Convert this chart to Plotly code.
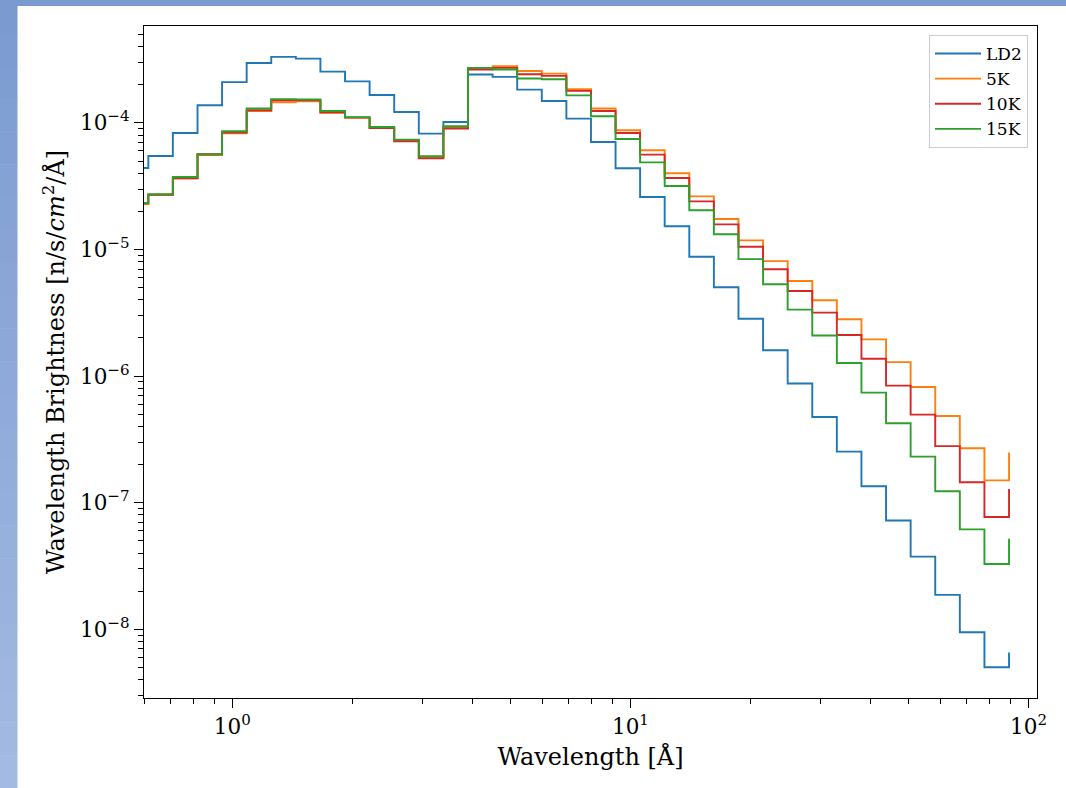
import plotly.graph_objects as go

# ---------------- data ----------------
wavelength = [0.5335, 0.6152, 0.7089, 0.8177, 0.9424, 1.0865, 1.2524, 1.4438, 1.6645,
              1.919, 2.2123, 2.5505, 2.9404, 3.3899, 3.9081, 4.5055, 5.1943, 5.9884,
              6.9038, 7.9591, 9.1759, 10.574, 12.19, 14.054, 16.202, 18.679, 21.534,
              24.826, 28.621, 32.996, 38.041, 43.856, 50.559, 58.289, 67.199, 77.472, 89.315]

ld2 = [4.40e-5, 5.48e-5, 8.32e-5, 1.377e-4, 2.10e-4, 2.97e-4, 3.32e-4, 3.22e-4, 2.54e-4,
       2.13e-4, 1.66e-4, 1.22e-4, 8.23e-5, 1.016e-4, 2.41e-4, 2.31e-4, 1.83e-4, 1.49e-4,
       1.08e-4, 7.07e-5, 4.38e-5, 2.60e-5, 1.525e-5, 8.76e-6, 5.03e-6, 2.84e-6, 1.60e-6,
       8.73e-7, 4.75e-7, 2.53e-7, 1.35e-7, 7.23e-8, 3.75e-8, 1.87e-8, 9.47e-9, 5.01e-9, 6.55e-9]

k5 = [2.29e-5, 2.70e-5, 3.65e-5, 5.58e-5, 8.28e-5, 1.24e-4, 1.455e-4, 1.48e-4, 1.20e-4,
      1.10e-4, 9.12e-5, 7.29e-5, 5.38e-5, 9.28e-5, 2.71e-4, 2.81e-4, 2.57e-4, 2.45e-4,
      1.85e-4, 1.30e-4, 8.74e-5, 6.08e-5, 4.00e-5, 2.63e-5, 1.74e-5, 1.18e-5, 8.10e-6,
      5.64e-6, 3.97e-6, 2.81e-6, 1.95e-6, 1.29e-6, 8.20e-7, 4.84e-7, 2.69e-7, 1.50e-7, 2.49e-7]

k10 = [2.32e-5, 2.71e-5, 3.65e-5, 5.65e-5, 8.38e-5, 1.26e-4, 1.51e-4, 1.51e-4, 1.21e-4,
       1.10e-4, 9.12e-5, 7.16e-5, 5.25e-5, 9.02e-5, 2.64e-4, 2.72e-4, 2.42e-4, 2.35e-4,
       1.79e-4, 1.24e-4, 8.32e-5, 5.62e-5, 3.67e-5, 2.40e-5, 1.58e-5, 1.05e-5, 6.98e-6,
       4.70e-6, 3.17e-6, 2.11e-6, 1.37e-6, 8.41e-7, 4.96e-7, 2.80e-7, 1.45e-7, 7.71e-8, 1.28e-7]

k15 = [2.33e-5, 2.73e-5, 3.74e-5, 5.65e-5, 8.58e-5, 1.30e-4, 1.54e-4, 1.53e-4, 1.24e-4,
       1.11e-4, 9.28e-5, 7.38e-5, 5.45e-5, 9.40e-5, 2.72e-4, 2.64e-4, 2.24e-4, 2.21e-4,
       1.65e-4, 1.13e-4, 7.46e-5, 4.88e-5, 3.17e-5, 2.04e-5, 1.32e-5, 8.40e-6, 5.31e-6,
       3.35e-6, 2.09e-6, 1.27e-6, 7.41e-7, 4.24e-7, 2.31e-7, 1.23e-7, 6.16e-8, 3.28e-8, 5.20e-8]

series_names = ["LD2", "5K", "10K", "15K"]
series_values = [ld2, k5, k10, k15]
series_colors = ["#1f77b4", "#ff7f0e", "#d62728", "#2ca02c"]

x_tick_vals = [1, 10, 100]
x_tick_text = ["10<sup>0</sup>", "10<sup>1</sup>", "10<sup>2</sup>"]
y_tick_vals = [1e-8, 1e-7, 1e-6, 1e-5, 1e-4]
y_tick_text = ["10<sup>\u22128</sup>", "10<sup>\u22127</sup>", "10<sup>\u22126</sup>",
               "10<sup>\u22125</sup>", "10<sup>\u22124</sup>"]

# ---------------- layout geometry ----------------
W, H = 1066, 788
ML, MR, MT, MB = 144, 29, 26, 90
PW, PH = W - ML - MR, H - MT - MB


def px_x(x):
    return (x - ML) / PW


def px_y(y):
    return (H - MB - y) / PH


FONT = "DejaVu Serif"

fig = go.Figure()
for name, vals, col in zip(series_names, series_values, series_colors):
    fig.add_trace(go.Scatter(x=wavelength, y=vals, name=name, mode="lines",
                             line=dict(color=col, width=1.9, shape="hv")))

x_minor = [m * 10 ** e for e in (-1, 0, 1) for m in range(2, 10)]
y_minor = [m * 10 ** e for e in range(-9, -3) for m in range(2, 10)]

axis_common = dict(type="log", showgrid=False, zeroline=False, showline=True,
                   linecolor="black", linewidth=1.3, mirror=True, ticks="outside",
                   ticklen=9, tickwidth=1.3, tickcolor="black",
                   tickfont=dict(family=FONT, size=21.5, color="black"),
                   tickmode="array")

fig.update_xaxes(**axis_common, range=[-0.22185, 2.02119],
                 tickvals=x_tick_vals, ticktext=x_tick_text,
                 minor=dict(tickmode="array", tickvals=x_minor, ticks="outside",
                            ticklen=5, tickwidth=1.1, tickcolor="black", showgrid=False),
                 title=dict(text="Wavelength [Å]", font=dict(family=FONT, size=24, color="black"),
                            standoff=10))
fig.update_yaxes(**axis_common, range=[-8.5427, -3.2346],
                 tickvals=y_tick_vals, ticktext=y_tick_text,
                 minor=dict(tickmode="array", tickvals=y_minor, ticks="outside",
                            ticklen=5, tickwidth=1.1, tickcolor="black", showgrid=False),
                 title=dict(text="Wavelength Brightness [n/s/<i>cm</i><sup>2</sup>/Å]",
                            font=dict(family=FONT, size=24, color="black"), standoff=8))

# background: blue page strips around the white figure
shapes = []
shapes.append(dict(type="rect", xref="paper", yref="paper",
                   x0=px_x(0), x1=px_x(W), y0=px_y(6), y1=px_y(0),
                   fillcolor="#7b9bd0", line=dict(width=0), layer="below"))
n = 24
c0 = (123, 155, 208)
c1 = (163, 186, 226)
for i in range(n):
    t = i / (n - 1)
    col = "rgb(%d,%d,%d)" % tuple(round(a + (b - a) * t) for a, b in zip(c0, c1))
    shapes.append(dict(type="rect", xref="paper", yref="paper",
                       x0=px_x(0), x1=px_x(17.5),
                       y0=px_y(H * (i + 1) / n + 0.5), y1=px_y(H * i / n),
                       fillcolor=col, line=dict(width=0), layer="below"))

fig.update_layout(
    width=W, height=H,
    margin=dict(l=ML, r=MR, t=MT, b=MB, pad=0),
    paper_bgcolor="white", plot_bgcolor="white",
    font=dict(family=FONT, color="black"),
    shapes=shapes,
    showlegend=True,
    legend=dict(x=px_x(1028), xanchor="right", y=px_y(35), yanchor="top",
                bgcolor="rgba(255,255,255,0.8)", bordercolor="#cccccc", borderwidth=1,
                font=dict(family=FONT, size=17, color="black"),
                itemwidth=46, tracegroupgap=0),
)

fig.write_html("out.html")
